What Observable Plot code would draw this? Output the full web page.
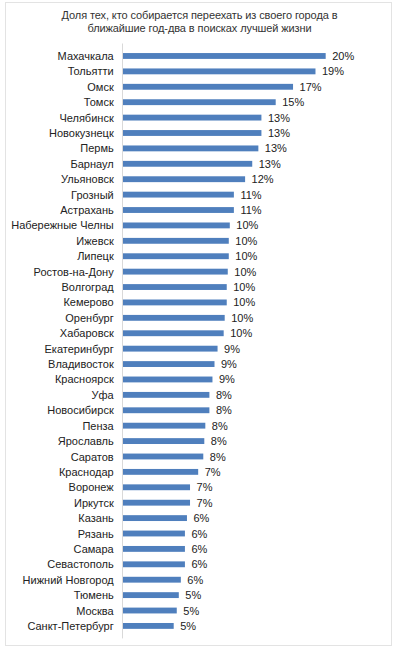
<!DOCTYPE html>
<html>
<head>
<meta charset="utf-8">
<script src="https://cdn.jsdelivr.net/npm/d3@7"></script>
<script src="https://cdn.jsdelivr.net/npm/@observablehq/plot@0.6"></script>
<style>
  html, body { margin: 0; padding: 0; background: #fff; }
  body { width: 399px; height: 650px; position: relative; overflow: hidden;
         font-family: "Liberation Sans", Arial, sans-serif; }
  #frame { position: absolute; left: 5px; top: 2px; width: 387px; height: 644px;
           border: 1px solid #e3e3e3; box-sizing: border-box; }
  #title { position: relative; height: 40px; width: 399px; text-align: center;
           font-size: 11px; letter-spacing: -0.1px; line-height: 13.6px; color: #333; padding-top: 8.5px; box-sizing: border-box; }
  #chart { position: relative; }
  #chart svg { display: block; }
</style>
</head>
<body>
<div id="frame"></div>
<div id="title">Доля тех, кто собирается переехать из своего города в<br>ближайшие год-два в поисках лучшей жизни</div>
<div id="chart"></div>
<script>
const cities = ["Махачкала","Тольятти","Омск","Томск","Челябинск","Новокузнецк","Пермь","Барнаул","Ульяновск","Грозный","Астрахань","Набережные Челны","Ижевск","Липецк","Ростов-на-Дону","Волгоград","Кемерово","Оренбург","Хабаровск","Екатеринбург","Владивосток","Красноярск","Уфа","Новосибирск","Пенза","Ярославль","Саратов","Краснодар","Воронеж","Иркутск","Казань","Рязань","Самара","Севастополь","Нижний Новгород","Тюмень","Москва","Санкт-Петербург"];
const values = [19.9,18.9,16.7,15.0,13.6,13.6,13.3,12.7,12.0,10.9,10.9,10.5,10.4,10.4,10.3,10.2,10.2,10.0,9.9,9.3,9.0,8.8,8.5,8.5,8.1,8.0,7.9,7.4,6.6,6.6,6.3,6.1,6.1,6.1,5.7,5.5,5.3,5.0];
const labels = ["20%","19%","17%","15%","13%","13%","13%","13%","12%","11%","11%","10%","10%","10%","10%","10%","10%","10%","10%","9%","9%","9%","8%","8%","8%","8%","8%","7%","7%","7%","6%","6%","6%","6%","6%","5%","5%","5%"];

const data = cities.map((c, i) => ({city: c, value: values[i], label: labels[i]}));

const chart = Plot.plot({
  width: 399,
  height: 610,
  marginTop: 3.5,
  marginBottom: 11.6,
  marginLeft: 122.7,
  marginRight: 21.3,
  style: {fontFamily: '"Liberation Sans", Arial, sans-serif', fontSize: "11px", color: "#222", background: "transparent"},
  x: {domain: [0, 25], axis: null},
  y: {domain: cities, padding: 0.62, round: false, label: null, tickSize: 0, tickPadding: 9.5},
  marks: [
    Plot.barX(data, {x: "value", y: "city", fill: "#4f7fbd"}),
    Plot.ruleX([0], {stroke: "#d9d9d9", strokeWidth: 1, dx: -0.7}),
    Plot.text(data, {x: "value", y: "city", text: "label", dx: 6, textAnchor: "start", fill: "#222", fontSize: 11}),
    Plot.axisY({tickSize: 0, tickPadding: 9.5, label: null, fontSize: 11, color: "#222"})
  ]
});
document.getElementById("chart").appendChild(chart);
</script>
</body>
</html>
